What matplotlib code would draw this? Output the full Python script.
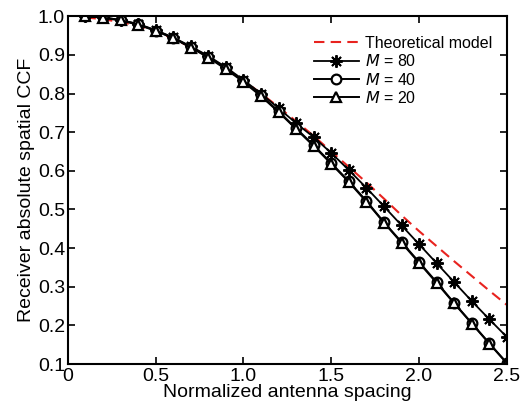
import matplotlib
matplotlib.use("Agg")
import matplotlib.pyplot as plt

plt.rcParams['font.family'] = ['Liberation Sans', 'DejaVu Sans']

# separacion normalizada de antenas
spacing = [0.1, 0.2, 0.3, 0.4, 0.5, 0.6, 0.7, 0.8, 0.9, 1.0, 1.1, 1.2, 1.3,
           1.4, 1.5, 1.6, 1.7, 1.8, 1.9, 2.0, 2.1, 2.2, 2.3, 2.4, 2.5]

theory = [0.997, 0.992, 0.985, 0.975, 0.960, 0.942, 0.920, 0.895, 0.866, 0.834,
          0.800, 0.765, 0.728, 0.690, 0.650, 0.610, 0.570, 0.528, 0.485, 0.444,
          0.405, 0.366, 0.328, 0.290, 0.253]
m80 = [1.000, 0.997, 0.990, 0.980, 0.964, 0.945, 0.922, 0.897, 0.868, 0.835,
       0.800, 0.762, 0.723, 0.687, 0.646, 0.602, 0.556, 0.508, 0.459, 0.410,
       0.361, 0.312, 0.263, 0.216, 0.170]
m40 = [1.000, 0.997, 0.990, 0.979, 0.963, 0.944, 0.920, 0.895, 0.865, 0.832,
       0.795, 0.754, 0.710, 0.666, 0.620, 0.573, 0.522, 0.467, 0.416, 0.364,
       0.312, 0.258, 0.206, 0.154, 0.103]
m20 = [1.000, 0.996, 0.989, 0.978, 0.962, 0.943, 0.919, 0.893, 0.863, 0.830,
       0.793, 0.752, 0.708, 0.664, 0.618, 0.571, 0.520, 0.466, 0.414, 0.362,
       0.310, 0.257, 0.205, 0.153, 0.102]

fig = plt.figure(figsize=(5.22, 4.05), dpi=100)
ax = fig.add_axes([0.130, 0.101, 0.841, 0.859])

ax.plot(spacing, theory, '--', color='#e8231f', lw=1.5, dashes=(5, 3),
        label='Theoretical model')
ax.plot(spacing, m80, '-', color='black', lw=1.3, marker=(8, 2, 0),
        ms=9, mew=1.4, label='$\\mathit{M}$ = 80')
ax.plot(spacing, m40, '-', color='black', lw=1.4, marker='o', ms=7,
        mfc='white', mew=1.6, label='$\\mathit{M}$ = 40')
ax.plot(spacing, m20, '-', color='black', lw=1.4, marker='^', ms=7,
        mfc='white', mew=1.6, label='$\\mathit{M}$ = 20')

ax.set_xlim(0, 2.5)
ax.set_ylim(0.1, 1.0)
ax.set_xticks([0, 0.5, 1.0, 1.5, 2.0, 2.5])
ax.set_xticklabels(['0', '0.5', '1.0', '1.5', '2.0', '2.5'])
ax.set_yticks([0.1, 0.2, 0.3, 0.4, 0.5, 0.6, 0.7, 0.8, 0.9, 1.0])
ax.set_yticklabels(['0.1', '0.2', '0.3', '0.4', '0.5', '0.6', '0.7', '0.8', '0.9', '1.0'])
ax.tick_params(direction='in', top=True, right=True, length=5, width=1.2,
               labelsize=14, pad=2)
ax.tick_params(axis='x', pad=3)
for s in ax.spines.values():
    s.set_linewidth(1.5)

ax.set_xlabel('Normalized antenna spacing', fontsize=14, labelpad=-1)
ax.set_ylabel('Receiver absolute spatial CCF', fontsize=14, labelpad=2)

ax.legend(loc='upper right', bbox_to_anchor=(1.0, 0.985), frameon=False,
          fontsize=11.5, handlelength=2.8, labelspacing=0.15,
          borderaxespad=0.5, handletextpad=0.4)

fig.savefig('out.png', dpi=100)
